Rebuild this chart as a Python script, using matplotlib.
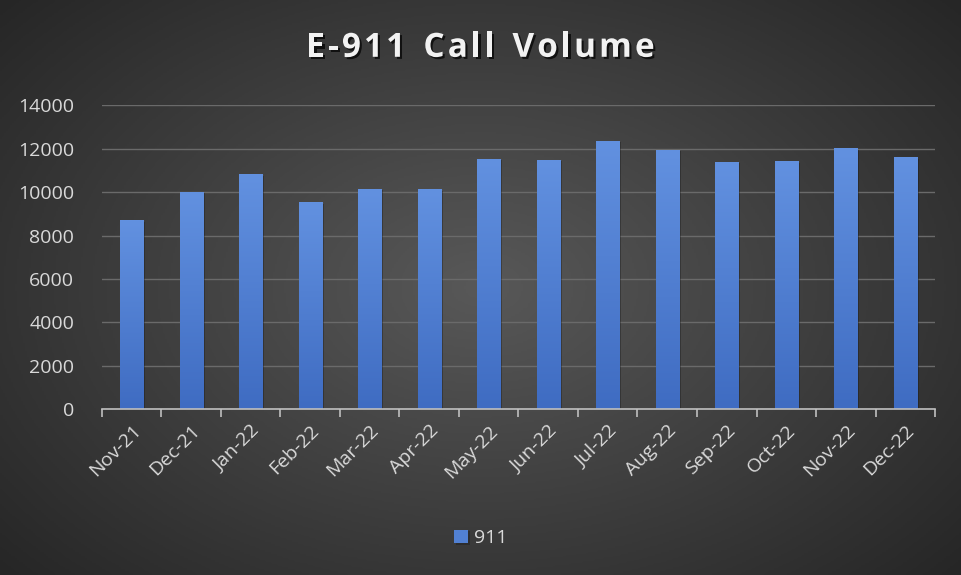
import numpy as np
import matplotlib
matplotlib.use("Agg")
import matplotlib.pyplot as plt
import matplotlib.patheffects as pe
from matplotlib.colors import LinearSegmentedColormap

# --- data ---
months = ["Nov-21", "Dec-21", "Jan-22", "Feb-22", "Mar-22", "Apr-22", "May-22",
          "Jun-22", "Jul-22", "Aug-22", "Sep-22", "Oct-22", "Nov-22", "Dec-22"]
calls_911 = [8710, 10020, 10830, 9540, 10140, 10130, 11540,
             11490, 12370, 11950, 11390, 11430, 12020, 11600]
y_ticks = [0, 2000, 4000, 6000, 8000, 10000, 12000, 14000]
series_name = "911"
title = "E-911 Call Volume"

plt.rcParams['font.family'] = ['Open Sans', 'DejaVu Sans']

fig = plt.figure(figsize=(9.61, 5.75), dpi=100)

# radial gradient background (lighter middle, dark edges)
bg = fig.add_axes([0, 0, 1, 1], zorder=-10)
yy, xx = np.mgrid[-1:1:300j, -1:1:500j]
r = np.sqrt(xx ** 2 + (yy * 0.9) ** 2)
bg_cmap = LinearSegmentedColormap.from_list("bg", ["#585858", "#3f3f3f", "#262626"])
bg.imshow(np.clip(r / 1.35, 0, 1), cmap=bg_cmap, aspect="auto", extent=[0, 1, 0, 1])
bg.set_axis_off()

ax = fig.add_axes([0.106, 0.2887, 0.867, 0.528])
ax.set_facecolor("none")

x = np.arange(len(months))
bars = ax.bar(x, calls_911, width=0.39, color="#5180d2", zorder=3,
              path_effects=[pe.SimplePatchShadow(offset=(1.5, -1), shadow_rgbFace="#151515", alpha=0.35),
                            pe.Normal()])

# vertical gradient on each bar
bar_cmap = LinearSegmentedColormap.from_list("bar", ["#3f6cc2", "#6291e0"])
grad = np.linspace(0, 1, 100).reshape(-1, 1)
for b in bars:
    img = ax.imshow(grad, cmap=bar_cmap, origin="lower", aspect="auto", zorder=4,
                    extent=[b.get_x(), b.get_x() + b.get_width(), 0, b.get_height()])
    img.set_clip_path(b)

ax.set_xlim(-0.5, len(months) - 0.5)
ax.set_ylim(0, 14000)
ax.set_yticks(y_ticks)
ax.grid(axis="y", color="#6a6a6a", linewidth=1, zorder=0)
ax.set_axisbelow(True)

for s in ["top", "right", "left"]:
    ax.spines[s].set_visible(False)
ax.spines["bottom"].set_color("#bfbfbf")
ax.spines["bottom"].set_linewidth(1.2)
ax.spines["bottom"].set_zorder(5)

ax.set_xticks(x)
ax.set_xticklabels(months, rotation=45, ha="right", rotation_mode="anchor")
ax.set_xticks(np.arange(-0.5, len(months)), minor=True)
ax.tick_params(axis="x", which="major", length=0, pad=9, labelsize=14, labelcolor="#d9d9d9")
ax.tick_params(axis="x", which="minor", length=6, color="#bfbfbf", width=1.2)
ax.tick_params(axis="y", length=0, pad=20, labelsize=14, labelcolor="#d9d9d9")

# title with widened letter spacing (Excel style)
renderer = fig.canvas.get_renderer()
shadow = [pe.withSimplePatchShadow(offset=(1.5, -1.5), shadow_rgbFace="black", alpha=0.7)]
spacing = 3.0  # px between letters
widths = []
for ch in title:
    t = fig.text(0, 0, ch if ch != " " else "n", fontsize=24, fontweight="bold")
    w = t.get_window_extent(renderer).width
    if ch == " ":
        w *= 0.55
    widths.append(w)
    t.remove()
total = sum(widths) + spacing * (len(title) - 1)
xpos = fig.bbox.width / 2 - total / 2
for ch, w in zip(title, widths):
    if ch != " ":
        fig.text(xpos / fig.bbox.width, 0.916, ch, ha="left", va="center", fontsize=24,
                 fontweight="bold", color="#f2f2f2", path_effects=shadow)
    xpos += w + spacing

leg = fig.legend([bars[0]], [series_name], loc="center", bbox_to_anchor=(0.5, 0.064),
                 frameon=False, fontsize=14, handlelength=0.7, handleheight=0.7,
                 handletextpad=0.3, labelcolor="#d9d9d9")

fig.savefig("out.png", dpi=100)
